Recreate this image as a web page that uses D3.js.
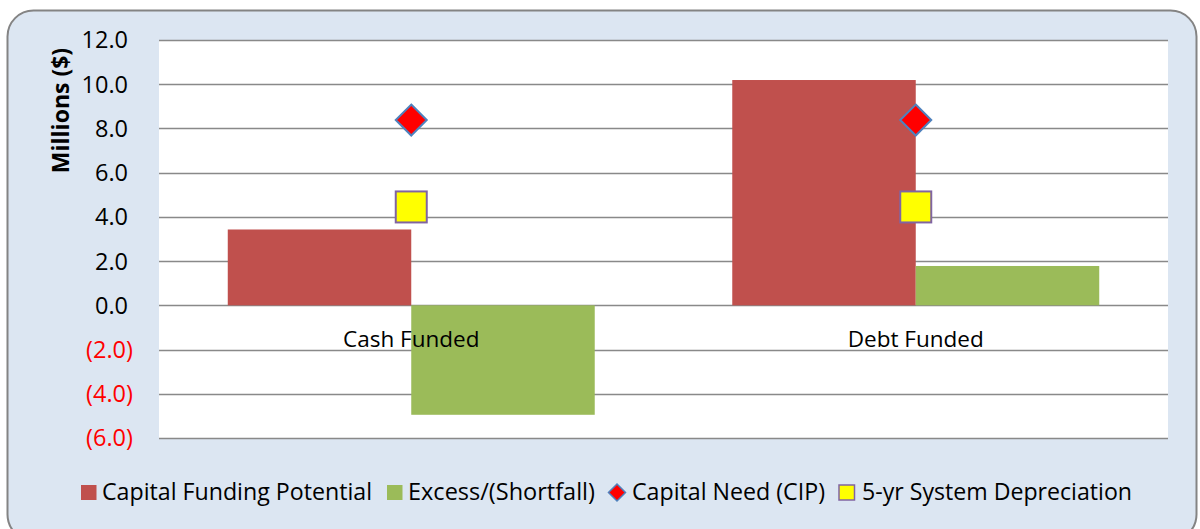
<!DOCTYPE html>
<html>
<head>
<meta charset="utf-8">
<script src="https://cdn.jsdelivr.net/npm/d3@7"></script>
<style>
  html, body { margin: 0; padding: 0; background: #ffffff; }
  svg { display: block; font-family: "Open Sans", sans-serif; }
</style>
</head>
<body>
<svg id="chart" width="1200" height="529"></svg>
<script>
// ---- data ----
const categories = ["Cash Funded", "Debt Funded"];
const capitalFundingPotential = [3.43, 10.19];
const excessShortfall = [-4.95, 1.78];
const capitalNeedCIP = [8.38, 8.38];
const systemDepreciation5yr = [4.45, 4.45];
const yTicks = [-6, -4, -2, 0, 2, 4, 6, 8, 10, 12];
const legendLabels = ["Capital Funding Potential", "Excess/(Shortfall)", "Capital Need (CIP)", "5-yr System Depreciation"];

const colors = {
  funding: "#c0504d",
  excess: "#9bbb59",
  needFill: "#ff0000",
  needStroke: "#4f81bd",
  depFill: "#ffff00",
  depStroke: "#8064a2",
  grid: "#898989",
  bg: "#dce6f2",
  border: "#848484"
};

const svg = d3.select("#chart");

// outer rounded frame
svg.append("rect")
  .attr("x", 7.5).attr("y", 10.5)
  .attr("width", 1189).attr("height", 530)
  .attr("rx", 26).attr("ry", 26)
  .attr("fill", colors.bg)
  .attr("stroke", colors.border)
  .attr("stroke-width", 2);

const plot = { left: 159, right: 1168, top: 40, bottom: 438 };

const y = d3.scaleLinear().domain([-6, 12]).range([plot.bottom, plot.top]);
const x0 = d3.scaleBand().domain(categories).range([plot.left, plot.right]).padding(0);
const barW = x0.bandwidth() * 0.3637;
const x1 = d3.scaleBand().domain(["funding", "excess"]).range([-barW, barW]).padding(0);

// plot background
svg.append("rect")
  .attr("x", plot.left).attr("y", plot.top)
  .attr("width", plot.right - plot.left).attr("height", plot.bottom - plot.top)
  .attr("fill", "#ffffff");

// gridlines
svg.append("g").selectAll("line").data(yTicks).join("line")
  .attr("x1", plot.left).attr("x2", plot.right)
  .attr("y1", d => Math.round(y(d)) + 0.5).attr("y2", d => Math.round(y(d)) + 0.5)
  .attr("stroke", colors.grid).attr("stroke-width", 1.6);

// y tick labels
const fmt = d3.format(".1f");
svg.append("g").selectAll("text").data(yTicks).join("text")
  .attr("x", d => d < 0 ? 133 : 128)
  .attr("y", d => y(d))
  .attr("dy", "0.36em")
  .attr("text-anchor", "end")
  .attr("font-size", 23.5)
  .attr("fill", d => d < 0 ? "#ff0000" : "#000000")
  .text(d => d < 0 ? "(" + fmt(-d) + ")" : fmt(d));

// y axis title
svg.append("text")
  .attr("transform", "translate(68.5,110.5) rotate(-90)")
  .attr("text-anchor", "middle")
  .attr("font-size", 23)
  .attr("font-weight", "bold")
  .attr("fill", "#000")
  .text("Millions ($)");

// bars
const barData = [];
categories.forEach((c, i) => {
  barData.push({ cat: c, key: "funding", v: capitalFundingPotential[i] });
  barData.push({ cat: c, key: "excess", v: excessShortfall[i] });
});
svg.append("g").selectAll("rect").data(barData).join("rect")
  .attr("x", d => x0(d.cat) + x0.bandwidth() / 2 + x1(d.key))
  .attr("width", x1.bandwidth())
  .attr("y", d => y(Math.max(0, d.v)))
  .attr("height", d => Math.abs(y(d.v) - y(0)))
  .attr("fill", d => colors[d.key]);

// category labels
svg.append("g").selectAll("text").data(categories).join("text")
  .attr("x", d => x0(d) + x0.bandwidth() / 2)
  .attr("y", 347.3)
  .attr("text-anchor", "middle")
  .attr("font-size", 22.5)
  .attr("fill", "#000")
  .text(d => d);

// markers
const cx = d => x0(d) + x0.bandwidth() / 2;
const dsz = 15.5;
svg.append("g").selectAll("path").data(categories.map((c, i) => ({ c, v: capitalNeedCIP[i] }))).join("path")
  .attr("d", d => {
    const X = cx(d.c), Y = y(d.v);
    return `M${X},${Y - dsz}L${X + dsz},${Y}L${X},${Y + dsz}L${X - dsz},${Y}Z`;
  })
  .attr("fill", colors.needFill)
  .attr("stroke", colors.needStroke).attr("stroke-width", 2);

const ssz = 31;
svg.append("g").selectAll("rect").data(categories.map((c, i) => ({ c, v: systemDepreciation5yr[i] }))).join("rect")
  .attr("x", d => cx(d.c) - ssz / 2)
  .attr("y", d => y(d.v) - ssz / 2)
  .attr("width", ssz).attr("height", ssz)
  .attr("fill", colors.depFill)
  .attr("stroke", colors.depStroke).attr("stroke-width", 2);

// legend
const leg = svg.append("g");
const legY = 500;
const symC = 492.5;
const symXs = [81, 387, 608, 839];
const textXs = [102, 408, 632, 862];
const textWidths = [270, 187, 193, 270];
legendLabels.forEach((lab, i) => {
  const sx = symXs[i];
  if (i === 0 || i === 1) {
    leg.append("rect").attr("x", sx).attr("y", symC - 7.5).attr("width", 15.5).attr("height", 15)
      .attr("fill", i === 0 ? colors.funding : colors.excess);
  } else if (i === 2) {
    const X = sx + 9, h = 8.5;
    leg.append("path").attr("d", `M${X},${symC - h}L${X + h},${symC}L${X},${symC + h}L${X - h},${symC}Z`)
      .attr("fill", colors.needFill).attr("stroke", colors.needStroke).attr("stroke-width", 1.5);
  } else {
    leg.append("rect").attr("x", sx).attr("y", symC - 7.5).attr("width", 15.5).attr("height", 15)
      .attr("fill", colors.depFill).attr("stroke", colors.depStroke).attr("stroke-width", 1.5);
  }
  leg.append("text")
    .attr("x", textXs[i])
    .attr("y", legY)
    .attr("font-size", 23)
    .attr("textLength", textWidths[i])
    .attr("lengthAdjust", "spacingAndGlyphs")
    .attr("fill", "#000")
    .text(lab);
});
</script>
</body>
</html>
